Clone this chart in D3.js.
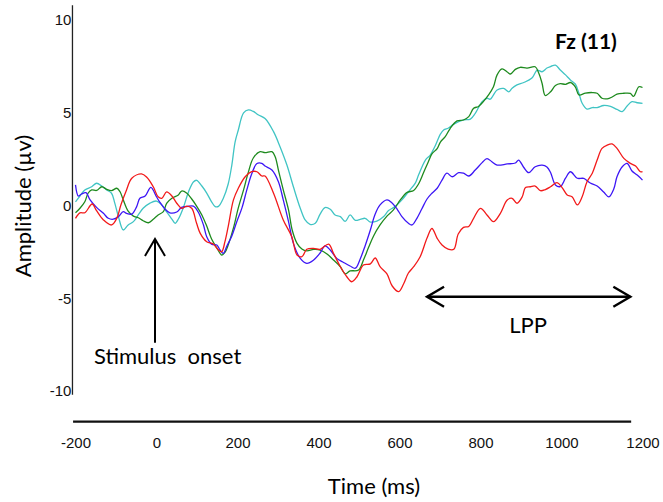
<!DOCTYPE html>
<html><head><meta charset="utf-8">
<script src="https://cdn.jsdelivr.net/npm/d3@7"></script>
<style>body{margin:0;background:#fff}</style>
</head><body>
<svg id="chart" width="663" height="502"></svg>
<script>
const xTicks = [-200, 0, 200, 400, 600, 800, 1000, 1200];
const yTicks = [-10, -5, 0, 5, 10];

const redTime = [-200,-189,-177,-159,-148,-131,-111,-98,-88,-74,-61,-37,-24,-8,4,13,25,38,50,62,75,87,99,108,124,140,153,161,169,177,190,202,219,235,248,260,268,289,313,334,347,359,371,388,404,425,437,454,470,482,495,511,528,540,552,569,582,598,610,622,635,651,668,680,693,705,720,734,745,758,771,783,800,816,832,849,866,878,890,903,911,923,935,948,960,973,989,1001,1014,1026,1039,1051,1063,1076,1088,1100,1113,1125,1137,1154,1170,1183,1195,1200];
const redAmp = [-0.69,-0.40,-0.39,0.08,-0.28,-0.78,-1.05,-0.69,0.03,0.84,1.47,1.70,1.52,1.01,0.47,0.39,0.73,0.51,0.12,-0.15,-0.03,-0.15,-0.96,-1.50,-1.95,-2.08,-2.40,-2.49,-1.95,-1.14,0.30,0.93,1.55,1.82,1.82,1.59,1.59,0.66,-0.78,-1.68,-2.67,-2.76,-2.36,-2.31,-2.36,-2.08,-2.58,-3.30,-3.84,-4.11,-3.84,-3.21,-3.15,-2.83,-3.30,-3.69,-4.34,-4.64,-4.23,-3.64,-3.30,-2.76,-1.75,-1.24,-1.77,-2.13,-2.35,-2.36,-1.54,-1.18,-1.13,-0.69,-0.15,-0.51,-0.87,-0.42,0.30,0.39,0.12,0.47,0.97,1.01,1.05,0.80,0.86,1.01,1.23,0.98,0.57,0.47,0.03,0.47,1.28,1.74,2.45,3.08,3.26,3.32,3.08,2.54,2.27,2.13,1.82,1.82];

const blueTime = [-200,-193,-185,-174,-164,-148,-131,-119,-107,-94,-82,-74,-61,-49,-41,-28,-14,0,9,21,33,50,62,75,91,103,116,124,136,149,157,165,173,186,198,211,223,235,248,260,268,285,301,313,326,338,355,371,388,404,416,429,445,462,478,491,503,515,528,540,552,569,581,594,606,622,631,643,655,668,680,693,705,717,730,746,758,771,787,804,816,828,841,866,886,894,907,919,935,952,964,973,985,997,1010,1022,1039,1055,1071,1088,1104,1117,1129,1137,1150,1162,1174,1187,1200];
const blueAmp = [1.11,0.51,0.62,0.69,0.30,-0.10,-0.42,-0.69,-0.74,-0.60,-0.33,-0.42,-0.46,-0.06,0.39,0.51,0.98,0.47,0.15,-0.19,-0.40,-0.35,-0.10,-0.06,-0.03,-0.35,-1.05,-1.68,-2.08,-2.13,-2.40,-2.58,-2.22,-1.64,-0.89,-0.13,0.84,1.70,2.26,2.27,2.13,1.91,1.28,0.30,-0.87,-2.04,-2.85,-3.12,-2.94,-2.56,-2.18,-2.40,-2.85,-3.07,-3.26,-3.38,-2.88,-2.18,-1.32,-0.46,0.03,0.30,0.15,-0.19,-0.60,-0.96,-1.05,-0.69,-0.19,0.35,0.66,0.93,1.37,1.74,1.55,1.77,1.74,1.59,1.91,2.31,2.53,2.36,2.18,2.24,2.29,2.45,2.05,1.77,2.09,2.18,2.08,1.78,1.11,1.02,1.47,1.82,1.47,1.46,1.21,1.05,0.73,0.47,0.89,1.55,2.09,2.27,1.86,1.64,1.37];

const greenTime = [-200,-189,-177,-169,-160,-148,-135,-123,-111,-98,-90,-82,-70,-57,-45,-33,-20,-8,4,17,25,38,54,62,75,87,99,112,124,136,149,161,169,177,190,202,215,227,239,256,268,285,293,301,313,326,335,347,359,371,388,404,421,437,454,466,478,499,511,524,536,552,569,585,602,618,635,647,659,671,680,693,701,713,725,742,758,771,783,795,808,820,832,841,853,866,874,886,898,915,935,944,952,960,973,985,997,1010,1022,1034,1043,1059,1076,1088,1100,1113,1125,1137,1154,1170,1178,1191,1200];
const greenAmp = [-0.39,-0.15,0.20,0.66,0.84,0.81,1.01,0.87,0.80,0.93,0.74,0.30,-0.30,-0.57,-0.66,-0.82,-0.93,-0.74,-0.51,-0.33,0.12,0.39,0.57,0.78,0.66,0.35,-0.03,-0.51,-1.11,-1.81,-2.29,-2.67,-2.53,-2.13,-1.21,-0.13,0.84,1.81,2.56,2.90,2.85,2.90,2.63,1.91,0.84,-0.24,-1.32,-2.04,-2.35,-2.45,-2.37,-2.40,-2.61,-2.94,-3.30,-3.69,-3.53,-3.48,-2.94,-2.24,-1.64,-1.05,-0.57,-0.24,0.30,0.70,0.81,1.16,1.75,2.35,2.78,3.07,3.42,3.71,4.15,4.56,4.61,4.79,5.24,5.34,5.63,5.96,6.40,7.04,7.36,7.20,7.09,7.34,7.45,7.41,7.48,7.13,6.59,5.93,6.13,6.47,6.57,6.53,6.63,6.40,5.96,6.06,6.09,6.05,5.78,5.75,5.85,6.01,6.05,6.04,5.88,6.40,6.36];

const cyanTime = [-200,-189,-177,-160,-148,-135,-123,-111,-103,-94,-82,-70,-57,-45,-33,-16,0,13,25,38,46,54,66,79,91,99,112,124,136,145,153,165,177,186,194,202,215,227,239,252,268,289,305,322,338,355,367,379,392,404,416,429,441,454,466,478,491,503,515,528,544,561,573,589,606,622,639,647,664,676,688,701,709,721,734,758,775,787,804,816,824,841,857,870,878,890,907,927,940,952,964,973,985,997,1010,1022,1034,1043,1051,1063,1076,1088,1104,1121,1137,1150,1162,1174,1187,1200];
const cyanAmp = [0.20,0.51,0.84,1.01,1.20,1.05,0.84,0.66,0.13,-0.60,-1.32,-1.05,-0.87,-0.51,-0.15,0.13,0.24,0.03,-0.35,-0.73,-0.96,-0.73,-0.13,0.73,1.27,1.36,1.05,0.67,0.20,-0.06,-0.05,0.39,1.16,2.18,3.42,4.07,4.99,5.15,5.07,4.88,4.69,3.98,3.17,2.18,1.01,-0.15,-0.78,-1.02,-0.96,-0.46,-0.11,-0.20,-0.51,-0.60,-0.86,-0.51,-0.80,-0.75,-0.69,-0.89,-0.84,-0.59,-0.27,-0.06,0.30,0.74,1.21,1.64,2.45,2.72,3.21,3.85,4.07,4.18,4.39,4.61,4.66,4.97,5.60,5.78,5.73,6.23,6.31,6.13,6.32,6.50,6.63,6.87,7.30,7.21,7.41,7.49,7.57,7.30,7.04,6.77,6.55,6.05,5.51,5.20,5.28,5.28,5.39,5.34,5.18,5.06,5.36,5.60,5.54,5.51];

const seriesNames = ["cyan", "green", "blue", "red"];
const seriesColors = ["#40c4c4", "#1e8a1e", "#3d16f5", "#f21a1a"];
const seriesTimes = [cyanTime, greenTime, blueTime, redTime];
const seriesAmps = [cyanAmp, greenAmp, blueAmp, redAmp];

// annotations in data units
const onsetArrow = {t: 0, from: -7.4, to: -1.8};
const lppArrow = {from: 668, to: 1170, v: -4.92};

const svg = d3.select("#chart");
const x = d3.scaleLinear().domain([-200, 1200]).range([75.5, 642.5]);
const y = d3.scaleLinear().domain([-10, 10]).range([391, 20]);

const tickFont = "'Liberation Sans', Arial, sans-serif";
const labelFont = "Lato, 'Open Sans', sans-serif";
const plainFormat = d => String(d);

// y axis
const yAxis = svg.append("g").attr("transform", `translate(${x(-207.5)},0)`)
  .call(d3.axisLeft(y).tickValues(yTicks).tickSize(0).tickPadding(1).tickFormat(plainFormat));
yAxis.select(".domain").remove();
yAxis.selectAll("text").attr("font-family", tickFont).attr("font-size", 15).attr("fill", "#111");
svg.append("line").attr("x1", x(-207.5)).attr("x2", x(-207.5)).attr("y1", y(10.8)).attr("y2", y(-10.2))
  .attr("stroke", "#222").attr("stroke-width", 1.3);

// x axis
const xAxisAt = -11.65;
const xAxis = svg.append("g").attr("transform", `translate(0,${y(xAxisAt)})`)
  .call(d3.axisBottom(x).tickValues(xTicks).tickSize(0).tickPadding(16).tickFormat(plainFormat));
xAxis.select(".domain").remove();
xAxis.selectAll("text").attr("font-family", tickFont).attr("font-size", 15).attr("fill", "#111");
svg.append("line").attr("x1", x(-206)).attr("x2", x(1172)).attr("y1", y(xAxisAt)).attr("y2", y(xAxisAt))
  .attr("stroke", "#111").attr("stroke-width", 2.2);

// series lines
const line = d3.line().x(d => x(d[0])).y(d => y(d[1])).curve(d3.curveCatmullRom.alpha(0.5));
seriesNames.forEach((name, i) => {
  const pts = seriesTimes[i].map((t, j) => [t, seriesAmps[i][j]]);
  svg.append("path").datum(pts).attr("class", "series " + name)
    .attr("d", line).attr("fill", "none").attr("stroke", seriesColors[i])
    .attr("stroke-width", 1.3).attr("stroke-linejoin", "round");
});

// onset arrow
const ax = x(onsetArrow.t) - 1.5, ay1 = y(onsetArrow.from), ay2 = y(onsetArrow.to);
svg.append("line").attr("x1", ax).attr("x2", ax).attr("y1", ay1).attr("y2", ay2)
  .attr("stroke", "#000").attr("stroke-width", 2);
svg.append("path").attr("d", `M${ax - 10},${ay2 + 17}L${ax},${ay2}L${ax + 10},${ay2 + 17}`)
  .attr("fill", "none").attr("stroke", "#000").attr("stroke-width", 2);

// LPP arrow
const lx1 = x(lppArrow.from), lx2 = x(lppArrow.to), ly = y(lppArrow.v);
svg.append("line").attr("x1", lx1).attr("x2", lx2).attr("y1", ly).attr("y2", ly)
  .attr("stroke", "#000").attr("stroke-width", 2.4);
svg.append("path").attr("d", `M${lx1 + 17},${ly - 10}L${lx1},${ly}L${lx1 + 17},${ly + 10}`)
  .attr("fill", "none").attr("stroke", "#000").attr("stroke-width", 2.4);
svg.append("path").attr("d", `M${lx2 - 17},${ly - 10}L${lx2},${ly}L${lx2 - 17},${ly + 10}`)
  .attr("fill", "none").attr("stroke", "#000").attr("stroke-width", 2.4);

// texts
svg.append("text").attr("x", 94).attr("y", 364).attr("font-family", labelFont).attr("font-size", 22)
  .attr("fill", "#000").style("white-space", "pre").text("Stimulus  onset");
svg.append("text").attr("x", 528).attr("y", 333).attr("text-anchor", "middle").attr("font-family", labelFont)
  .attr("font-size", 22).attr("fill", "#000").text("LPP");
svg.append("text").attr("x", 586).attr("y", 49).attr("text-anchor", "middle").attr("font-family", labelFont)
  .attr("font-size", 21).attr("font-weight", "bold").attr("fill", "#000").text("Fz (11)");
svg.append("text").attr("x", 374).attr("y", 494).attr("text-anchor", "middle").attr("font-family", labelFont)
  .attr("font-size", 22).attr("fill", "#000").text("Time (ms)");
svg.append("text").attr("transform", "translate(31,206) rotate(-90)").attr("text-anchor", "middle")
  .attr("font-family", labelFont).attr("font-size", 22).attr("fill", "#000").text("Amplitude (µv)");
</script>
</body></html>
